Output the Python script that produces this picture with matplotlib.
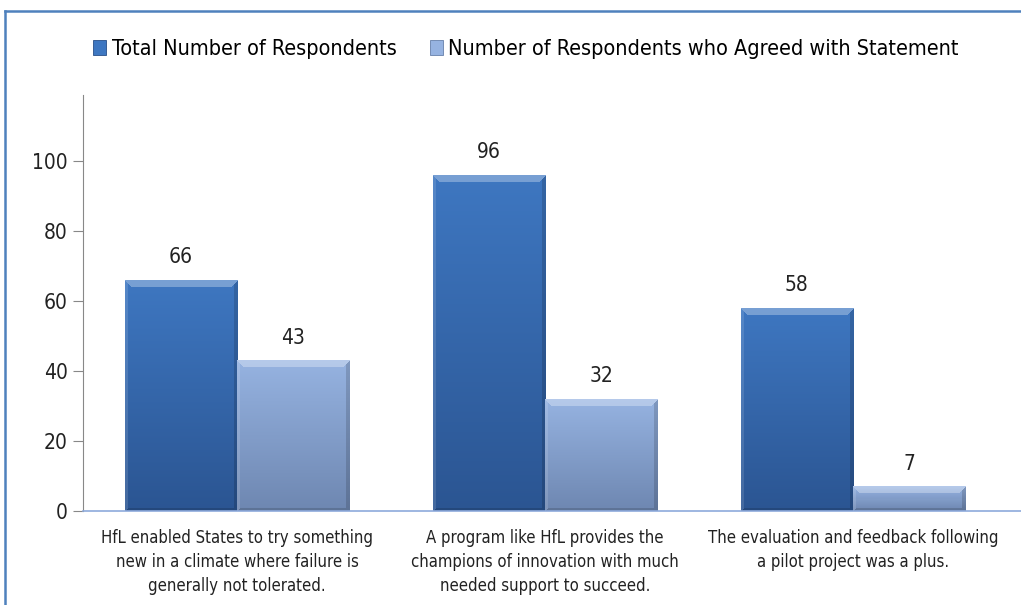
import numpy as np
import matplotlib.pyplot as plt
from matplotlib.colors import to_rgb
from matplotlib.lines import Line2D

CATEGORIES = [
    "HfL enabled States to try something\nnew in a climate where failure is\ngenerally not tolerated.",
    "A program like HfL provides the\nchampions of innovation with much\nneeded support to succeed.",
    "The evaluation and feedback following\na pilot project was a plus.",
]
SERIES = ["Total Number of Respondents", "Number of Respondents who Agreed with Statement"]
TOTAL = [66, 96, 58]
AGREED = [43, 32, 7]
YTICKS = [0, 20, 40, 60, 80, 100]

FONT = ["DejaVu Sans"]
plt.rcParams["font.family"] = FONT
plt.rcParams["font.stretch"] = "condensed"

W, H = 1021, 605
fig = plt.figure(figsize=(W / 100, H / 100), dpi=100)
ax = fig.add_axes([83 / W, 1 - 510.7 / H, (W - 83) / W, 415.7 / H])

x = np.arange(len(CATEGORIES))
width = 0.365
styles = [
    ("#3e77c1", "#2b5592", "#284f88"),
    ("#96b3e1", "#6e87b1", "#6680aa"),
]

ax.set_xlim(-0.5, len(CATEGORIES) - 0.5 + 14 / 308)
ax.set_ylim(0, 118.8)


def bevel_image(wpx, hpx, top, bottom, bev=6):
    top, bottom = np.array(to_rgb(top)), np.array(to_rgb(bottom))
    t = np.linspace(0, 1, hpx).reshape(-1, 1, 1)
    img = (top * (1 - t) + bottom * t) * np.ones((1, wpx, 1))
    r = np.arange(hpx).reshape(-1, 1)
    c = np.arange(wpx).reshape(1, -1)
    d_top, d_bot = r * np.ones_like(c), (hpx - 1 - r) * np.ones_like(c)
    d_left, d_right = c * np.ones_like(r), (wpx - 1 - c) * np.ones_like(r)
    d = np.stack([d_top, d_left, d_right, d_bot])
    near = d.argmin(axis=0)
    dist = d.min(axis=0)
    widths = {0: bev + 1, 1: 3, 2: 4, 3: 3}
    shade = {0: 0.3, 1: 0.12, 2: -0.15, 3: -0.15}
    for k, s in shade.items():
        m = (near == k) & (dist < widths[k])
        if s > 0:
            img[m] = img[m] + (1 - img[m]) * s
        else:
            img[m] = img[m] * (1 + s)
    return np.clip(img, 0, 1)


for i, (vals, (top, bottom, edge)) in enumerate(zip([TOTAL, AGREED], styles)):
    offset = (i - 0.5) * width
    bars = ax.bar(x + offset, vals, width=width, color=top, edgecolor=edge,
                  linewidth=0.6, label=SERIES[i], zorder=2)
    for b in bars:
        bx, bw, bh = b.get_x(), b.get_width(), b.get_height()
        (x0, y0), (x1, y1) = ax.transData.transform([(bx, 0), (bx + bw, bh)])
        img = bevel_image(max(int(round(x1 - x0)), 2), max(int(round(y1 - y0)), 2), top, bottom)
        ax.imshow(img, aspect="auto", extent=(bx, bx + bw, 0, bh), zorder=2.5,
                  interpolation="nearest")
        ax.annotate(f"{bh:g}", (bx + bw / 2, bh), xytext=(0, 9),
                    textcoords="offset points", ha="center", va="bottom",
                    fontsize=15, color="#222222")

ax.set_xlim(-0.5, len(CATEGORIES) - 0.5 + 14 / 308)
ax.set_ylim(0, 118.8)
ax.set_yticks(YTICKS)
ax.set_xticks(x)
ax.set_xticklabels(CATEGORIES, fontsize=12, linespacing=1.45, color="#222222")
ax.tick_params(axis="x", length=0, pad=13)
ax.tick_params(axis="y", labelsize=15, length=7, color="#888888",
               labelcolor="#222222", pad=4)
for s in ["top", "right"]:
    ax.spines[s].set_visible(False)
ax.spines["left"].set_color("#888888")
ax.spines["bottom"].set_color("#8eaadb")
ax.spines["bottom"].set_linewidth(1.2)

fig.legend(loc="upper left", bbox_to_anchor=(74 / W, 1 - 20 / H), ncol=2,
           frameon=False, fontsize=15.5, handlelength=0.6, handleheight=0.7,
           handletextpad=0.25, columnspacing=1.55)

# chart-area border (top and left edges visible)
fig.add_artist(Line2D([5 / W, 1.0], [1 - 11 / H, 1 - 11 / H], transform=fig.transFigure,
                      color="#4f81bd", linewidth=1.8))
fig.add_artist(Line2D([5 / W, 5 / W], [0.0, 1 - 11 / H], transform=fig.transFigure,
                      color="#4f81bd", linewidth=1.8))

fig.savefig("out.png", dpi=100)
